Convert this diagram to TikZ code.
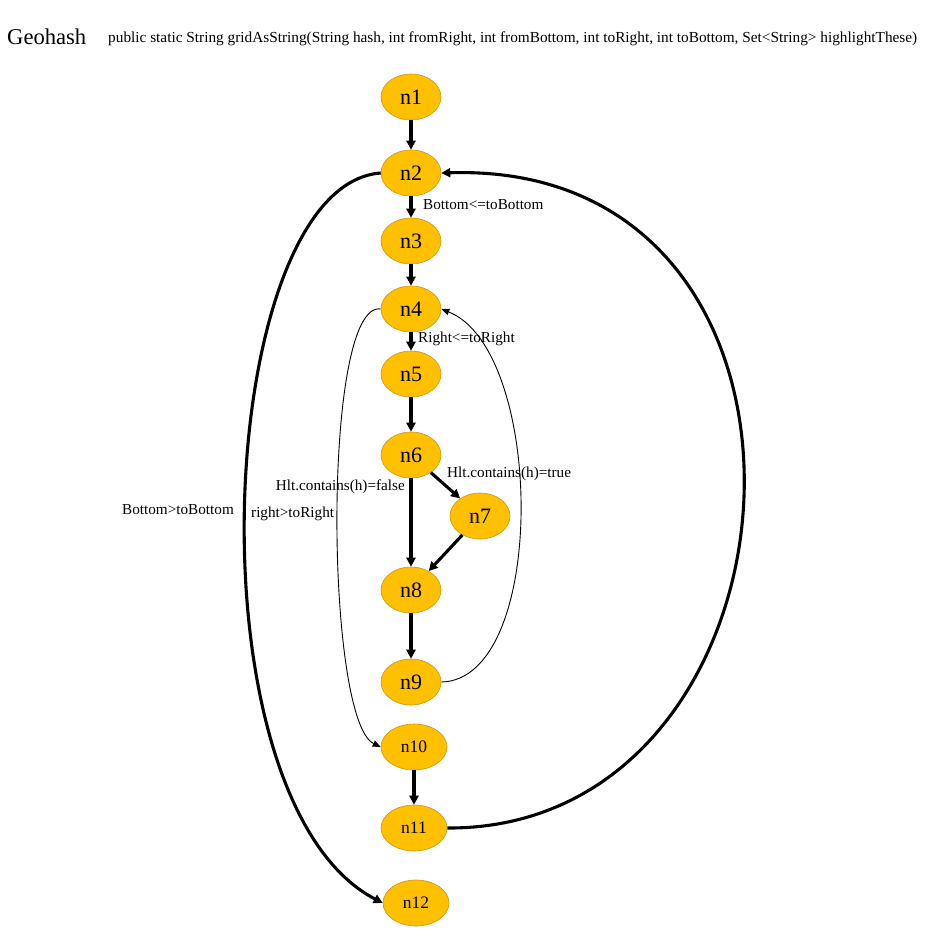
\documentclass[tikz,border=0pt]{standalone}
\usepackage{fontspec}
\setmainfont{Liberation Serif}
\usetikzlibrary{shapes.geometric,arrows.meta}
\definecolor{nodefill}{RGB}{255,192,0}
\definecolor{nodeline}{RGB}{205,150,20}
\begin{document}
\begin{tikzpicture}[x=1pt,y=-1pt,
  nd/.style={ellipse,draw=nodeline,fill=nodefill,line width=0.6pt,minimum width=60pt,minimum height=46pt,inner sep=0pt,font=\fontsize{22}{22}\selectfont},
  ndsmall/.style={nd,minimum width=66pt,font=\fontsize{17.5}{17.5}\selectfont},
  thick edge/.style={line width=3.1pt,-{Triangle[length=9pt,width=9pt]}},
  thin edge/.style={line width=0.9pt,-{Triangle[length=8pt,width=6.5pt]}},
  lbl/.style={font=\fontsize{15.2}{15.2}\selectfont,inner sep=0pt}]
\useasboundingbox (0,0) rectangle (943,946);
\node[anchor=west,inner sep=0pt,font=\fontsize{22.6}{22.6}\selectfont] (title) at (7,37) {Geohash};
\node[anchor=west,inner sep=0pt,font=\fontsize{15.3}{15.3}\selectfont] (sig) at (108,39) {public static String gridAsString(String hash, int fromRight, int fromBottom, int toRight, int toBottom, Set<String> highlightThese)};
\node[nd] (n1) at (411,97) {n1};
\node[nd] (n2) at (411,173) {n2};
\node[nd] (n3) at (411,241) {n3};
\node[nd] (n4) at (411,309) {n4};
\node[nd] (n5) at (411,374) {n5};
\node[nd] (n6) at (411,455) {n6};
\node[nd] (n7) at (480,516) {n7};
\node[nd] (n8) at (411,590) {n8};
\node[nd] (n9) at (411,682) {n9};
\node[ndsmall] (n10) at (414,747) {n10};
\node[ndsmall] (n11) at (414,828) {n11};
\node[ndsmall] (n12) at (416,903) {n12};
\draw[thick edge] (n1) -- (n2);
\draw[thick edge] (n2) -- (n3);
\draw[thick edge] (n3) -- (n4);
\draw[thick edge] (n4) -- (n5);
\draw[thick edge] (n5) -- (n6);
\draw[thick edge] (n6) -- (n7);
\draw[thick edge] (n6) -- (n8);
\draw[thick edge] (n7) -- (n8);
\draw[thick edge] (n8) -- (n9);
\draw[thick edge] (n10) -- (n11);
\draw[thin edge] (n9.east) .. controls (548,680) and (545,350) .. (n4.east);
\draw[thin edge] (n4.west) .. controls (322,300) and (325,720) .. (n10.west);
\draw[thick edge] (n11.east) .. controls (820,830) and (865,160) .. (n2.east);
\draw[thick edge] (n2.west) .. controls (215,185) and (185,800) .. (n12.west);
\node[lbl,anchor=west] (l1) at (423,205) {Bottom<=toBottom};
\node[lbl,anchor=west] (l2) at (418,339) {Right<=toRight};
\node[lbl,anchor=west] (l3) at (447,474) {Hlt.contains(h)=true};
\node[lbl,anchor=east] (l4) at (405,487) {Hlt.contains(h)=false};
\node[lbl,anchor=west] (l5) at (251,514) {right>toRight};
\node[lbl,anchor=west] (l6) at (122,510) {Bottom>toBottom};
\end{tikzpicture}
\end{document}
